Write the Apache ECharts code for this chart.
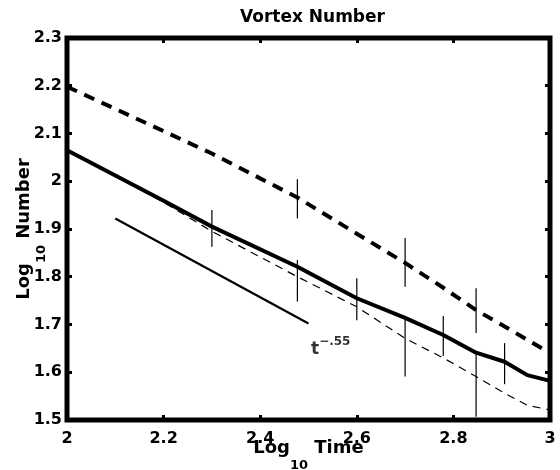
<!DOCTYPE html>
<html>
<head>
<meta charset="utf-8">
<script src="https://cdn.jsdelivr.net/npm/echarts@6/dist/echarts.min.js"></script>
<style>
  html, body { margin: 0; padding: 0; background: #fff; }
  #chart { width: 560px; height: 470px; }
</style>
</head>
<body>
<div id="chart"></div>
<script>
// log10 time samples shared by the three curves
var times = [2.0, 2.2, 2.3, 2.477, 2.6, 2.7, 2.779, 2.847, 2.906, 2.953, 3.0];
// upper thick dashed curve
var upperDashed = [2.198, 2.105, 2.058, 1.966, 1.890, 1.829, 1.777, 1.730, 1.696, 1.668, 1.640];
// thick solid curve
var meanSolid = [2.065, 1.959, 1.905, 1.821, 1.755, 1.714, 1.678, 1.641, 1.622, 1.594, 1.582];
// thin dashed curve
var lowerDashed = [2.065, 1.956, 1.895, 1.800, 1.737, 1.671, 1.630, 1.591, 1.556, 1.531, 1.521];

// vertical error bars
var barX = [2.3, 2.477, 2.477, 2.6, 2.7, 2.7, 2.779, 2.847, 2.847, 2.906];
var barLow = [1.863, 1.922, 1.748, 1.709, 1.779, 1.591, 1.634, 1.682, 1.507, 1.575];
var barHigh = [1.940, 2.004, 1.835, 1.797, 1.881, 1.713, 1.718, 1.776, 1.641, 1.661];

// reference slope line t^-.55
var slopeX = [2.1, 2.5];
var slopeY = [1.922, 1.702];
var slopeLabelPos = [2.5, 1.648];

var xTicks = ['2', '2.2', '2.4', '2.6', '2.8', '3'];

var FONT = 'DejaVu Sans';

function pairs(xs, ys) {
  var out = [];
  for (var i = 0; i < xs.length; i++) {
    out.push([xs[i], ys[i]]);
  }
  return out;
}

var bars = [];
for (var i = 0; i < barX.length; i++) {
  bars.push([barX[i], barLow[i], barHigh[i]]);
}

var chart = echarts.init(document.getElementById('chart'), null, { renderer: 'canvas' });

var tickLabel = { fontFamily: FONT, fontWeight: 'bold', fontSize: 16, color: '#000' };
var nameStyle = {
  fontFamily: FONT, fontWeight: 'bold', fontSize: 18, color: '#000',
  rich: {
    s: { fontFamily: FONT, fontWeight: 'bold', fontSize: 13, color: '#000', padding: [34, 0, 0, 0] }
  }
};

var option = {
  backgroundColor: '#ffffff',
  animation: false,
  title: {
    text: 'Vortex Number',
    left: 235,
    top: 4,
    textStyle: { fontFamily: FONT, fontWeight: 'bold', fontSize: 17, color: '#000' }
  },
  grid: {
    left: 67, right: 10, top: 38, bottom: 50,
    outerBoundsMode: 'none',
    containLabel: false,
    show: true, borderColor: '#000', borderWidth: 5
  },
  xAxis: [
    {
      type: 'value', position: 'bottom', min: 2, max: 3, interval: 0.2,
      name: 'Log{s|10} Time', nameLocation: 'middle', nameGap: 5,
      nameMoveOverlap: false,
      nameTextStyle: nameStyle,
      axisLine: { show: false },
      axisTick: { show: true, inside: true, length: 5, lineStyle: { color: '#000', width: 3 } },
      axisLabel: Object.assign({ margin: 11, formatter: function (v) {
        var idx = Math.round((v - 2) / 0.2);
        return xTicks[idx];
      } }, tickLabel),
      splitLine: { show: false }
    },
    {
      type: 'value', position: 'top', min: 2, max: 3, interval: 0.2,
      axisLine: { show: false },
      axisTick: { show: true, inside: true, length: 5, lineStyle: { color: '#000', width: 3 } },
      axisLabel: { show: false },
      splitLine: { show: false }
    }
  ],
  yAxis: [
    {
      type: 'value', position: 'left', min: 1.5, max: 2.3, interval: 0.1,
      name: 'Log{s|10} Number', nameLocation: 'middle', nameGap: 19, nameRotate: 90,
      nameMoveOverlap: false,
      nameTextStyle: nameStyle,
      axisLine: { show: false },
      axisTick: { show: true, inside: true, length: 5, lineStyle: { color: '#000', width: 3 } },
      axisLabel: Object.assign({ margin: 5 }, tickLabel),
      splitLine: { show: false }
    },
    {
      type: 'value', position: 'right', min: 1.5, max: 2.3, interval: 0.1,
      axisLine: { show: false },
      axisTick: { show: true, inside: true, length: 5, lineStyle: { color: '#000', width: 3 } },
      axisLabel: { show: false },
      splitLine: { show: false }
    }
  ],
  series: [
    {
      type: 'line', data: pairs(times, upperDashed), symbol: 'none',
      lineStyle: { color: '#000', width: 4, type: [11, 8] }
    },
    {
      type: 'line', data: pairs(times, meanSolid), symbol: 'none',
      lineStyle: { color: '#000', width: 4 }
    },
    {
      type: 'line', data: pairs(times, lowerDashed), symbol: 'none',
      lineStyle: { color: '#000', width: 1.2, type: [8, 6] }
    },
    {
      type: 'custom',
      data: bars,
      encode: { x: 0, y: [1, 2] },
      renderItem: function (params, api) {
        var lo = api.coord([api.value(0), api.value(1)]);
        var hi = api.coord([api.value(0), api.value(2)]);
        return {
          type: 'line',
          shape: { x1: lo[0], y1: lo[1], x2: hi[0], y2: hi[1] },
          style: { stroke: '#000', lineWidth: 1.2 }
        };
      }
    },
    {
      type: 'line', data: pairs(slopeX, slopeY), symbol: 'none',
      lineStyle: { color: '#000', width: 2.2 }
    },
    {
      type: 'scatter', data: [slopeLabelPos], symbolSize: 1,
      itemStyle: { color: 'rgba(0,0,0,0)' },
      label: {
        show: true, position: 'right', distance: 2,
        formatter: 't{sup|\u2212.55}',
        fontFamily: FONT, fontWeight: 'bold', fontSize: 17, color: '#000',
        rich: {
          sup: { fontFamily: FONT, fontWeight: 'bold', fontSize: 12, color: '#000', padding: [0, 0, 14, 0] }
        }
      }
    }
  ]
};

chart.setOption(option);
</script>
</body>
</html>
